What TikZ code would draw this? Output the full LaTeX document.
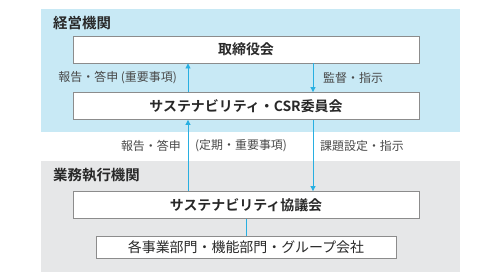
\documentclass[tikz,border=0pt]{standalone}
\usepackage{fontspec}
\setmainfont{Noto Sans CJK JP}
\newfontfamily\jpbold{Noto Sans CJK JP Bold}
\usepackage{tikz}
\usetikzlibrary{arrows.meta, positioning, calc}
\definecolor{mycyan}{RGB}{40,175,225}
\definecolor{mydark}{RGB}{40,40,40}
\definecolor{mygray}{RGB}{140,140,140}
\definecolor{hdrblue}{RGB}{200,233,245}
\definecolor{hdrgray}{RGB}{230,231,232}
\tikzset{
  orgbox/.style={rectangle, draw=mygray, fill=white, line width=0.9pt,
    minimum width=346bp, minimum height=27bp, inner sep=0pt,
    font=\jpbold\fontsize{14}{16}\selectfont, text=mydark},
  subbox/.style={rectangle, draw=mygray, fill=white, line width=0.9pt,
    minimum width=300bp, minimum height=22bp, inner sep=0pt,
    font=\fontsize{14}{16}\selectfont, text=mydark},
  title/.style={anchor=west, inner sep=0pt, text=mydark,
    font=\jpbold\fontsize{14.5}{16}\selectfont},
  lbl/.style={inner sep=0pt, text=mydark!85, font=\fontsize{12}{14}\selectfont},
  arrow/.style={-{Triangle[length=5bp, width=5bp]}, line width=0.9pt, color=mycyan},
  line/.style={line width=0.9pt, color=mycyan}
}

\begin{document}
\begin{tikzpicture}[x=1bp, y=-1bp]
  \useasboundingbox (0,0) rectangle (503,277);

  % Panels
  \fill[hdrblue] (41,9) rectangle (460,132);
  \fill[hdrgray] (41,161) rectangle (460,272);
  \node[title] (T1) at (53,23) {経営機関};
  \node[title] (T2) at (53,175) {業務執行機関};

  % Boxes
  \node[orgbox] (board) at (246,49.5) {取締役会};
  \node[orgbox] (csr) at (246,106) {サステナビリティ・CSR委員会};
  \node[orgbox] (council) at (246,205) {サステナビリティ協議会};
  \node[subbox] (depts) at (246,247) {各事業部門・機能部門・グループ会社};

  % Arrow columns
  \coordinate (upx) at (188,0);
  \coordinate (downx) at (313,0);

  % Connectors
  \draw[arrow] (csr.north -| upx) -- (board.south -| upx);
  \draw[arrow] (board.south -| downx) -- (csr.north -| downx);
  \draw[arrow] (council.north -| upx) -- (csr.south -| upx);
  \draw[arrow] (csr.south -| downx) -- (council.north -| downx);
  \draw[line] (council.south) -- (depts.north);

  % Labels
  \node[lbl, anchor=east] (L1) at (177,78) {報告・答申 (重要事項)};
  \node[lbl, anchor=west] (L2) at (323,78) {監督・指示};
  \node[lbl, anchor=east] (L3) at (181,146) {報告・答申};
  \node[lbl, anchor=west] (L4) at (195,146) {(定期・重要事項)};
  \node[lbl, anchor=west] (L5) at (320,146) {課題設定・指示};
\end{tikzpicture}
\end{document}
